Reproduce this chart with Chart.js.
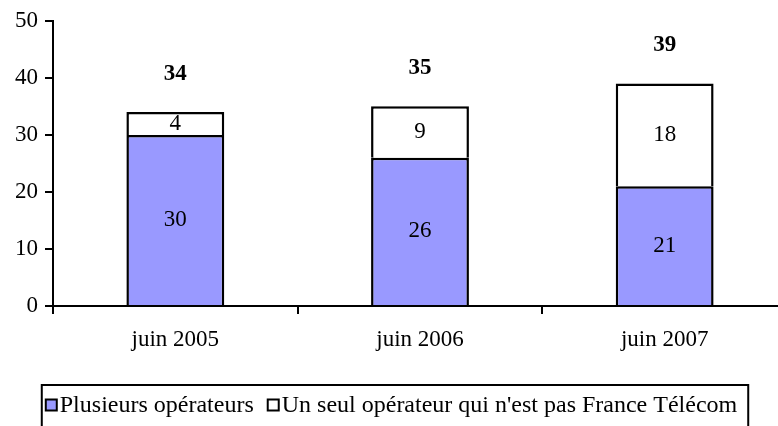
<!DOCTYPE html>
<html>
<head>
<meta charset="utf-8">
<script src="https://cdn.jsdelivr.net/npm/chart.js@4"></script>
<style>
  html, body { margin: 0; padding: 0; background: #fff; overflow: hidden; }
  #wrap { position: relative; width: 790px; height: 426px; }
</style>
</head>
<body>
<div id="wrap"><canvas id="chart"></canvas></div>
<script>
// categories and values
const categories = ["juin 2005", "juin 2006", "juin 2007"];
const plusieurs = [30, 26, 21];
const unSeul = [4, 9, 18];
const totals = [34, 35, 39];
const yTicks = [0, 10, 20, 30, 40, 50];
const seriesNames = ["Plusieurs opérateurs", "Un seul opérateur qui n'est pas France Télécom"];

const FONT = "'Liberation Serif', 'Times New Roman', serif";
const SIZE = 23;

// labels inside segments and bold total above each bar
const valueLabels = {
  id: "valueLabels",
  afterDatasetsDraw(chart) {
    const ctx = chart.ctx;
    ctx.save();
    ctx.fillStyle = "#000";
    ctx.textAlign = "center";
    ctx.textBaseline = "middle";
    ctx.font = SIZE + "px " + FONT;
    chart.data.datasets.forEach((ds, i) => {
      chart.getDatasetMeta(i).data.forEach((bar, j) => {
        const mid = (bar.y + bar.base) / 2;
        ctx.fillText(String(ds.data[j]), bar.x, mid);
      });
    });
    ctx.font = "bold " + SIZE + "px " + FONT;
    const top = chart.getDatasetMeta(1).data;
    totals.forEach((t, j) => {
      ctx.fillText(String(t), top[j].x, top[j].y - 38);
    });
    ctx.restore();
  },
};

// framed legend drawn by hand so the spacing matches
const boxLegend = {
  id: "boxLegend",
  afterDraw(chart) {
    const ctx = chart.ctx;
    ctx.save();
    ctx.font = "24px " + FONT;
    const sw = 11, gap = 3, between = 14;
    const widths = seriesNames.map((s) => ctx.measureText(s).width);
    const inner = sw * 2 + gap * 2 + widths[0] + widths[1] + between;
    const boxW = inner + 15;
    const left = chart.width / 2 - boxW / 2;
    const top = 385;
    ctx.strokeStyle = "#000";
    ctx.lineWidth = 2;
    ctx.strokeRect(left, top, boxW, 60);
    let x = left + 4;
    const cy = 405;
    chart.data.datasets.forEach((ds, i) => {
      ctx.fillStyle = ds.backgroundColor;
      ctx.fillRect(x, cy - sw / 2, sw, sw);
      ctx.strokeRect(x, cy - sw / 2, sw, sw);
      x += sw + gap;
      ctx.fillStyle = "#000";
      ctx.textAlign = "left";
      ctx.textBaseline = "middle";
      ctx.fillText(seriesNames[i], x, cy + 1);
      x += widths[i] + between;
    });
    ctx.restore();
  },
};

const ctx = document.getElementById("chart").getContext("2d");
new Chart(ctx, {
  type: "bar",
  data: {
    labels: categories,
    datasets: [
      {
        label: seriesNames[0],
        data: plusieurs,
        backgroundColor: "#9999ff",
        borderColor: "#000",
        borderWidth: 2.5,
        barPercentage: 0.4,
        categoryPercentage: 1,
      },
      {
        label: seriesNames[1],
        data: unSeul,
        backgroundColor: "#ffffff",
        borderColor: "#000",
        borderWidth: 2.5,
        barPercentage: 0.4,
        categoryPercentage: 1,
      },
    ],
  },
  options: {
    responsive: true,
    maintainAspectRatio: false,
    animation: false,
    layout: { padding: { top: 17, right: 3, left: 0, bottom: 0 } },
    plugins: {
      legend: { display: false },
      tooltip: { enabled: false },
    },
    scales: {
      x: {
        stacked: true,
        afterFit: (scale) => { scale.height = 120; },
        grid: { drawOnChartArea: false, color: "#000", lineWidth: 2, tickLength: 8, offset: true },
        border: { color: "#000", width: 2 },
        ticks: { color: "#000", font: { family: FONT, size: SIZE }, padding: 12, maxRotation: 0 },
      },
      y: {
        stacked: true,
        min: 0,
        max: 50,
        afterFit: (scale) => { scale.width = 53; },
        afterBuildTicks: (scale) => { scale.ticks = yTicks.map((v) => ({ value: v })); },
        grid: { drawOnChartArea: false, color: "#000", lineWidth: 2, tickLength: 8 },
        border: { color: "#000", width: 2 },
        ticks: { color: "#000", font: { family: FONT, size: SIZE }, padding: 7 },
      },
    },
  },
  plugins: [valueLabels, boxLegend],
});
</script>
</body>
</html>
